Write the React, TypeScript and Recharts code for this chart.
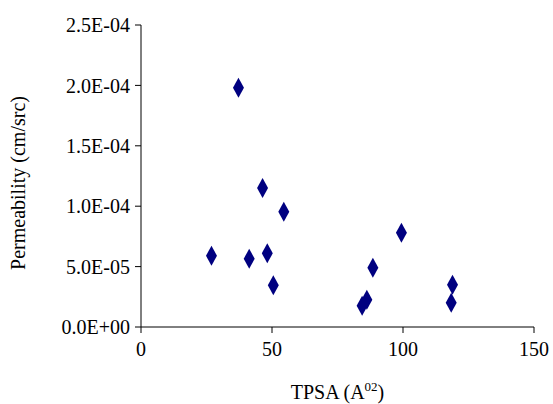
import { ScatterChart, Scatter, XAxis, YAxis } from 'recharts'

const tpsa = [37.2, 46.4, 54.5, 26.9, 41.3, 48.2, 50.5, 99.4, 88.5, 86.2, 84.4, 118.9, 118.4]
const permeability = [1.98e-4, 1.15e-4, 9.55e-5, 5.9e-5, 5.65e-5, 6.1e-5, 3.45e-5, 7.8e-5, 4.9e-5, 2.25e-5, 1.75e-5, 3.5e-5, 2.0e-5]
const xTicks = [0, 50, 100, 150]
const yTicks = [0, 5e-5, 1e-4, 1.5e-4, 2e-4, 2.5e-4]

const points = tpsa.map((x, i) => ({ x, y: permeability[i] }))

const font = '"Liberation Serif", "Times New Roman", serif'

// Excel style: 2.5E-04
function sci(v: number) {
  if (v === 0) return '0.0E+00'
  const exp = Math.floor(Math.log10(Math.abs(v)) + 1e-9)
  const mant = v / Math.pow(10, exp)
  const sign = exp < 0 ? '-' : '+'
  return mant.toFixed(1) + 'E' + sign + String(Math.abs(exp)).padStart(2, '0')
}

const Diamond = (props: any) => {
  const { cx, cy } = props
  if (cx == null || cy == null) return null
  const w = 5.5
  const h = 10
  return (
    <path
      d={`M${cx},${cy - h} L${cx + w},${cy} L${cx},${cy + h} L${cx - w},${cy} Z`}
      fill="#000080"
    />
  )
}

export default function App() {
  return (
    <div style={{ position: 'absolute', left: 0, top: 0, width: 553, height: 404, background: '#fff' }}>
      <ScatterChart width={553} height={404} margin={{ top: 25, right: 19, bottom: 0, left: 0 }}>
        <XAxis
          type="number"
          dataKey="x"
          domain={[0, 150]}
          ticks={xTicks}
          height={77}
          tickSize={6}
          tickMargin={9}
          stroke="#000"
          tick={{ fill: '#000', fontSize: 20, fontFamily: font }}
          label={{
            content: ({ viewBox }: any) => (
              <text
                x={viewBox.x + viewBox.width / 2}
                y={viewBox.y + 72}
                textAnchor="middle"
                fontSize={20}
                fontFamily={font}
                fill="#000"
              >
                TPSA (A<tspan dy={-8} fontSize={13}>02</tspan>
                <tspan dy={8}>)</tspan>
              </text>
            ),
          }}
        />
        <YAxis
          type="number"
          dataKey="y"
          domain={[0, 2.5e-4]}
          ticks={yTicks}
          width={141}
          tickSize={6}
          tickMargin={5}
          tickFormatter={sci}
          stroke="#000"
          tick={{ fill: '#000', fontSize: 20, fontFamily: font }}
          label={{
            content: () => (
              <text
                x={18}
                y={183}
                transform="rotate(-90, 18, 183)"
                textAnchor="middle"
                dominantBaseline="central"
                fontSize={20}
                fontFamily={font}
                fill="#000"
              >
                Permeability (cm/src)
              </text>
            ),
          }}
        />
        <Scatter data={points} shape={<Diamond />} isAnimationActive={false} />
      </ScatterChart>
    </div>
  )
}
